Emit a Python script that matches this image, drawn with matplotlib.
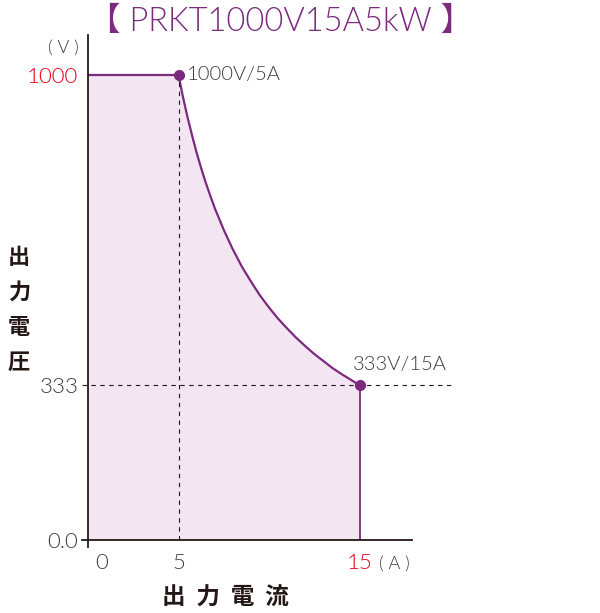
import numpy as np
import matplotlib.pyplot as plt

plt.rcParams['font.family'] = ['Lato', 'Noto Sans CJK JP', 'DejaVu Sans']

# operating envelope (A, V)
current = [0, 5, 5.25, 5.5, 5.75, 6, 6.25, 6.5, 6.75, 7, 7.5, 8, 8.5, 9, 9.5,
           10, 10.5, 11, 11.5, 12, 12.5, 13, 13.5, 14, 14.5, 15]
voltage = [1000, 1000, 952, 909, 870, 833, 800, 769, 741, 714, 667, 625, 588, 556, 526,
           500, 476, 455, 435, 417, 400, 385, 370, 357, 345, 333]
corner_pts = [(5, 1000), (15, 333)]
corner_labels = ['1000V/5A', '333V/15A']
ytick_vals = [0, 333, 1000]
ytick_text = ['0.0', '333', '1000']
xtick_vals = [0, 5, 15]
xtick_text = ['0', '5', '15']

purple = '#7b2a7e'
fillc = '#f3e6f2'
red = '#e60012'
dark = '#231815'
grey = '#3e3a39'
w = 300

fig = plt.figure(figsize=(6.0, 6.13), dpi=100)
ax = fig.add_axes([88/600, 73/613, 324/600, 505/613])
ax.set_xlim(0, 17.9)
ax.set_ylim(0, 1086)

ax.fill_between(current, voltage, 0, color=fillc, lw=0)
ax.plot(current, voltage, color=purple, lw=1.6, solid_joinstyle='round')
ax.plot([15, 15], [333, 0], color=purple, lw=1.3)
for (cx, cy) in corner_pts:
    ax.plot(cx, cy, 'o', color=purple, ms=7, clip_on=False, zorder=5)

# guide lines
ax.plot([5, 5], [0, 1000], color=dark, lw=0.8, ls=(0, (4, 4)), zorder=3)
ax.plot([-0.35, 20.1], [333, 333], color=dark, lw=0.8, ls=(0, (4, 4)), clip_on=False, zorder=3)

ax.text(5.45, 1000, corner_labels[0], fontsize=14.5, fontweight=w, color=grey, va='center', ha='left')
ax.text(14.65, 360, corner_labels[1], fontsize=14.5, fontweight=w, color=grey, va='bottom', ha='left')

for s in ['top', 'right']:
    ax.spines[s].set_visible(False)
for s in ['left', 'bottom']:
    ax.spines[s].set_color(dark)
    ax.spines[s].set_linewidth(1.3)
ax.spines['left'].set_bounds(-15, 1086)
ax.spines['bottom'].set_bounds(-0.35, 17.9)

ax.set_yticks(ytick_vals)
ax.set_yticklabels(ytick_text, fontsize=16, fontweight=w, color=grey)
ax.get_yticklabels()[2].set_color(red)
ax.set_xticks([])
ax.tick_params(axis='y', length=0, pad=7)
for xv, tx in zip(xtick_vals, xtick_text):
    off = 0.75 if xv == 0 else 0
    ax.text(xv + off, -50, tx, fontsize=16, fontweight=w, ha='center', va='center',
            color=red if xv == 15 else grey)
ax.text(16.05, -50, '( A )', fontsize=13, fontweight=w, ha='left', va='center', color=grey)
ax.text(-0.5, 1058, '( V )', fontsize=13, fontweight=w, ha='right', va='center', color=grey)

fig.text(19/600, 1 - 310/613, '出\n力\n電\n圧', family='Noto Sans CJK JP', fontsize=16,
         fontweight='bold', ha='center', va='center', linespacing=1.65, color=dark)
fig.text(225/600, 1 - 598/613, '出  力  電  流', family='Noto Sans CJK JP', fontsize=17,
         fontweight='bold', ha='center', va='center', color=dark)
fig.text(281/600, 1 - 22/613, '【 PRKT1000V15A5kW 】', fontsize=23.5, fontweight=w,
         color=purple, ha='center', va='center')

plt.savefig('out.png', dpi=100)
